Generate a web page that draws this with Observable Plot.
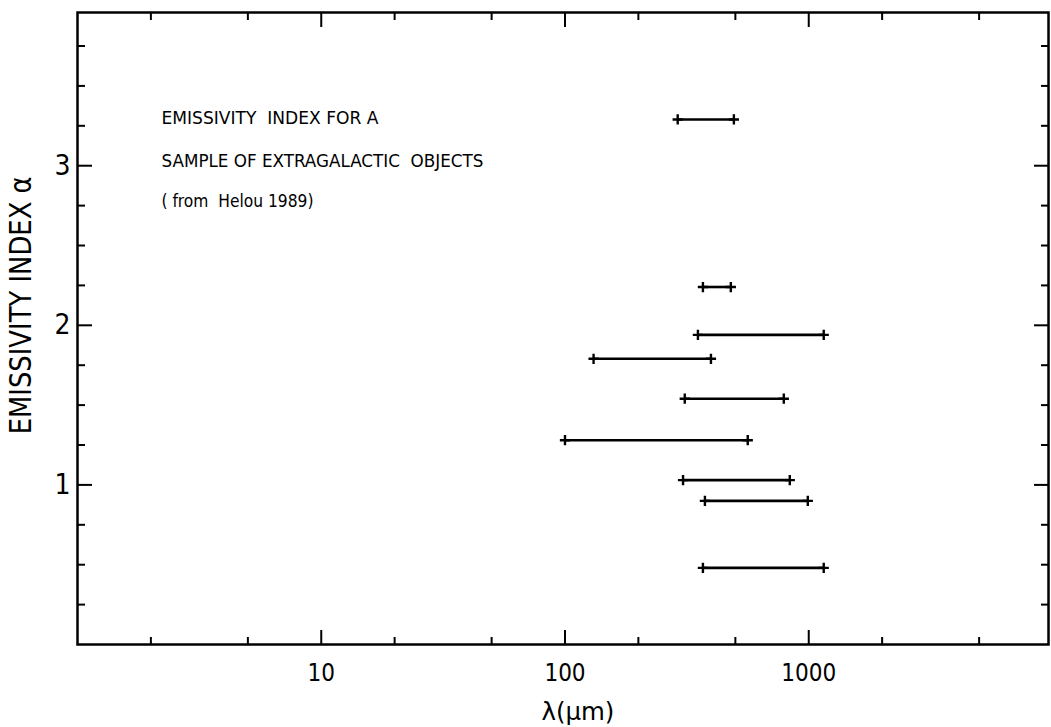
<!DOCTYPE html>
<html><head><meta charset="utf-8">
<script src="https://cdn.jsdelivr.net/npm/d3@7"></script>
<script src="https://cdn.jsdelivr.net/npm/@observablehq/plot@0.6"></script>
<style>body{margin:0;background:#fff;} svg{display:block}</style>
</head><body><div id="chart"></div>
<script>
// Emissivity index α and wavelength range (μm) of each object
const alpha     = [3.29, 2.24, 1.94, 1.79, 1.54, 1.28, 1.03, 0.90, 0.48];
const lambdaMin = [290, 368, 351, 131, 310, 100, 305, 375, 368];
const lambdaMax = [493, 479, 1152, 397, 790, 562, 836, 991, 1152];

const xMajorTicks = [10, 100, 1000];
const xMinorTicks = [2, 5, 20, 50, 200, 500, 2000, 5000];
const yMajorTicks = [1, 2, 3];
const yMinorTicks = [0.25, 0.5, 0.75, 1.25, 1.5, 1.75, 2.25, 2.5, 2.75, 3.25, 3.5, 3.75];
const noteLines = ["EMISSIVITY  INDEX FOR A", "SAMPLE OF EXTRAGALACTIC  OBJECTS", "( from  Helou 1989)"];
const xLabel = "λ(μm)";
const yLabel = "EMISSIVITY INDEX α";

const bars = alpha.map((a, i) => ({alpha: a, lo: lambdaMin[i], hi: lambdaMax[i]}));
const ends = bars.flatMap(b => [{alpha: b.alpha, lam: b.lo}, {alpha: b.alpha, lam: b.hi}]);
const noteAlpha = [3.30, 3.03, 2.78];
const notes = noteLines.map((t, i) => ({text: t, alpha: noteAlpha[i]}));

const font = "'DejaVu Sans Condensed', 'Liberation Sans Narrow', 'DejaVu Sans', sans-serif";

const plot = Plot.plot({
  width: 1051, height: 727,
  marginLeft: 77, marginRight: 3, marginTop: 12, marginBottom: 83,
  style: {background: "#fff", color: "#000", fontFamily: font},
  x: {type: "log", domain: [1, 9630]},
  y: {domain: [0, 3.96]},
  marks: [
    Plot.frame({strokeWidth: 2.5}),
    // inward ticks, all four sides
    Plot.axisX({ticks: xMajorTicks, anchor: "bottom", tickSize: -14, strokeWidth: 2, fill: "none", label: null}),
    Plot.axisX({ticks: xMinorTicks, anchor: "bottom", tickSize: -7, strokeWidth: 2, fill: "none", label: null}),
    Plot.axisX({ticks: xMajorTicks, anchor: "top", tickSize: -14, strokeWidth: 2, fill: "none", label: null}),
    Plot.axisX({ticks: xMinorTicks, anchor: "top", tickSize: -7, strokeWidth: 2, fill: "none", label: null}),
    Plot.axisY({ticks: yMajorTicks, anchor: "left", tickSize: -15, strokeWidth: 2, fill: "none", label: null}),
    Plot.axisY({ticks: yMinorTicks, anchor: "left", tickSize: -8, strokeWidth: 2, fill: "none", label: null}),
    Plot.axisY({ticks: yMajorTicks, anchor: "right", tickSize: -15, strokeWidth: 2, fill: "none", label: null}),
    Plot.axisY({ticks: yMinorTicks, anchor: "right", tickSize: -8, strokeWidth: 2, fill: "none", label: null}),
    // tick labels
    Plot.axisX({ticks: xMajorTicks, anchor: "bottom", tickSize: 0, tickPadding: 19, fontSize: 24, label: null, tickFormat: d => String(d)}),
    Plot.axisY({ticks: yMajorTicks, anchor: "left", tickSize: 0, tickPadding: 7, fontSize: 28, label: null, tickFormat: d => String(d)}),
    // axis titles
    Plot.text([xLabel], {x: 113, frameAnchor: "bottom", dy: 68, lineAnchor: "middle", fontSize: 24}),
    Plot.text([yLabel], {y: 2.125, frameAnchor: "left", dx: -56, rotate: -90, lineAnchor: "middle", textAnchor: "middle", fontSize: 30}),
    // annotation
    Plot.text(notes, {x: 2.21, y: "alpha", text: "text", textAnchor: "start", lineAnchor: "middle", fontSize: 18}),
    // bars with end caps
    Plot.ruleY(bars, {y: "alpha", x1: "lo", x2: "hi", strokeWidth: 2.6}),
    Plot.dot(ends, {x: "lam", y: "alpha", symbol: "plus", r: 3.4, strokeWidth: 2.4, stroke: "#000"})
  ]
});

const lengths = {
  "EMISSIVITY  INDEX FOR A": 217,
  "SAMPLE OF EXTRAGALACTIC  OBJECTS": 322,
  "( from  Helou 1989)": 152,
  "EMISSIVITY INDEX α": 258,
  "λ(μm)": 73
};
plot.querySelectorAll("text").forEach(t => {
  const s = t.textContent;
  if (lengths[s]) {
    t.setAttribute("textLength", lengths[s]);
    t.setAttribute("lengthAdjust", "spacingAndGlyphs");
    t.setAttribute("xml:space", "preserve");
    t.style.whiteSpace = "pre";
  }
});
document.getElementById("chart").appendChild(plot);
</script>
</body></html>
